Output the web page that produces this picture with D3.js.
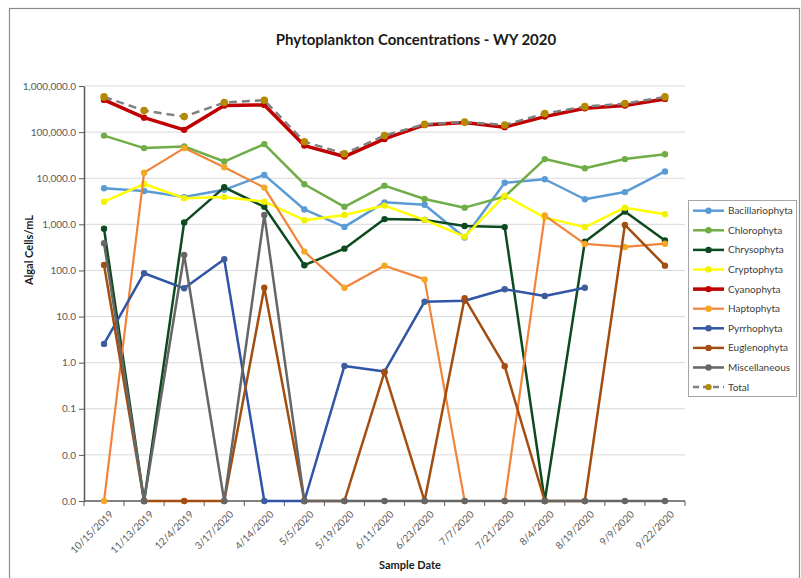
<!DOCTYPE html>
<html>
<head>
  <meta charset="UTF-8">
  <title>Phytoplankton Concentrations - WY 2020</title>
  <style>
    body { margin: 0; background: #fff; }
    svg text { font-family: Lato, "Open Sans", sans-serif; }
  </style>
</head>
<body>
  <div class="chart"></div>
  <script src="https://d3js.org/d3.v7.min.js"></script>
  <script>

    /// data (cells/mL, 0 = none found, null = not sampled)

    var dates = ["10/15/2019", "11/13/2019", "12/4/2019", "3/17/2020", "4/14/2020", "5/5/2020",
                 "5/19/2020", "6/11/2020", "6/23/2020", "7/7/2020", "7/21/2020", "8/4/2020",
                 "8/19/2020", "9/9/2020", "9/22/2020"];

    var bacillariophyta = [6050, 5300, 3900, 5600, 11800, 2100, 880, 3000, 2650, 520, 8000, 9500, 3500, 5000, 14000];
    var chlorophyta = [84000, 45000, 49000, 23000, 55000, 7400, 2400, 6900, 3550, 2300, 4000, 26000, 16500, 26000, 33000];
    var chrysophyta = [800, 0, 1100, 6350, 2400, 130, 297, 1300, 1250, 920, 870, 0, 420, 1900, 445];
    var cryptophyta = [3100, 7500, 3700, 3900, 3100, 1230, 1600, 2550, 1250, 540, 4200, 1400, 870, 2300, 1650];
    var cyanophyta = [500000, 206000, 112000, 376000, 389000, 51000, 29500, 71000, 143000, 161000, 128000, 217000, 330000, 376000, 525000];
    var haptophyta = [0, 13200, 45000, 17300, 6260, 256, 42, 126, 64, 0, 0, 1550, 376, 323, 380];
    var pyrrhophyta = [2.55, 87, 41, 175, 0, 0, 0.85, 0.64, 21, 22, 39, 28, 42, null, null];
    var euglenophyta = [132, 0, 0, 0, 42, 0, 0, 0.62, 0, 25, 0.84, 0, 0, 970, 127];
    var miscellaneous = [390, 0, 217, 0, 1600, 0, 0, 0, 0, 0, 0, 0, 0, 0, 0];
    var total = [580000, 293000, 217000, 437000, 491000, 62000, 34000, 84000, 148000, 166000, 143000, 252000, 357000, 415000, 580000];

    var yTicks = [0.001, 0.01, 0.1, 1, 10, 100, 1000, 10000, 100000, 1000000];

    // series, in drawing order
    var series = [
      {name: "Bacillariophyta", values: bacillariophyta, color: "#5b9bd5", marker: "#5b9bd5", width: 2.5},
      {name: "Chlorophyta", values: chlorophyta, color: "#70ad47", marker: "#70ad47", width: 2.5},
      {name: "Chrysophyta", values: chrysophyta, color: "#0d4a1f", marker: "#0d4a1f", width: 2.5},
      {name: "Cryptophyta", values: cryptophyta, color: "#ffff00", marker: "#f2f200", width: 2.5},
      {name: "Cyanophyta", values: cyanophyta, color: "#c00000", marker: "#c00000", width: 3.5},
      {name: "Haptophyta", values: haptophyta, color: "#f0843a", marker: "#f5a623", width: 2.2},
      {name: "Pyrrhophyta", values: pyrrhophyta, color: "#2f55a4", marker: "#3d5d9e", width: 2.5},
      {name: "Euglenophyta", values: euglenophyta, color: "#a34e10", marker: "#a34e10", width: 2.5},
      {name: "Miscellaneous", values: miscellaneous, color: "#666666", marker: "#666666", width: 2.5},
      {name: "Total", values: total, color: "#808080", marker: "#b38a00", width: 2.5, dash: "8,5"}
    ];

    /// layout

    var width = 801, height = 578;
    var plot = {left: 84, right: 685, top: 86, bottom: 501};

    var svg = d3.select(".chart").append("svg")
        .attr("width", width)
        .attr("height", height);

    // chart border
    svg.append("rect")
        .attr("x", 9.5).attr("y", 8.5)
        .attr("width", 790).attr("height", 580)
        .attr("fill", "#fff")
        .attr("stroke", "#8c8c8c")
        .attr("stroke-width", 1.2);

    var x = d3.scaleBand()
        .domain(dates)
        .range([plot.left, plot.right]);
    var y = d3.scaleLog()
        .domain([0.001, 1000000])
        .range([plot.bottom, plot.top]);

    // zero can't go on a log axis, Excel parks it on the floor
    function yPos(v) { return y(Math.max(v, 0.001)); }
    function xPos(d) { return x(d) + x.bandwidth() / 2; }

    // gridlines
    svg.append("g")
        .attr("class", "grid")
      .selectAll("line")
      .data(yTicks.slice(1))
      .enter().append("line")
        .attr("x1", plot.left).attr("x2", plot.right)
        .attr("y1", function(d) { return y(d); })
        .attr("y2", function(d) { return y(d); })
        .attr("stroke", "#d9d9d9")
        .attr("stroke-width", 1);

    // y axis
    var yAxis = svg.append("g")
        .attr("transform", "translate(" + plot.left + ",0)")
        .call(d3.axisLeft(y).tickValues(yTicks).tickFormat(d3.format(",.1f")).tickSize(5).tickSizeOuter(0));
    yAxis.select(".domain").attr("stroke", "#595959").attr("stroke-width", 1.5);
    yAxis.selectAll(".tick line").attr("stroke", "#595959");
    yAxis.selectAll(".tick text")
        .attr("x", -8)
        .attr("fill", "#595959")
        .style("font-size", "10px");

    // x axis: ticks sit between the categories
    var xAxisG = svg.append("g")
        .attr("transform", "translate(0," + plot.bottom + ")");
    xAxisG.append("line")
        .attr("x1", plot.left).attr("x2", plot.right)
        .attr("stroke", "#595959").attr("stroke-width", 1.5);
    xAxisG.selectAll(".tk")
      .data(dates.concat([null]))
      .enter().append("line")
        .attr("class", "tk")
        .attr("x1", function(d, i) { return plot.left + i * x.step(); })
        .attr("x2", function(d, i) { return plot.left + i * x.step(); })
        .attr("y1", 0).attr("y2", 5)
        .attr("stroke", "#595959");
    xAxisG.selectAll(".lbl")
      .data(dates)
      .enter().append("text")
        .attr("class", "lbl")
        .attr("transform", function(d) { return "translate(" + (xPos(d) + 5) + ",9) rotate(-45)"; })
        .attr("text-anchor", "end")
        .attr("dy", "0.7em")
        .attr("fill", "#595959")
        .style("font-size", "10px")
        .text(function(d) { return d; });

    // lines + markers
    var line = d3.line()
        .defined(function(d) { return d.v !== null; })
        .x(function(d) { return xPos(d.date); })
        .y(function(d) { return yPos(d.v); });

    series.forEach(function(s) {
      var pts = s.values.map(function(v, i) { return {date: dates[i], v: v}; });
      var g = svg.append("g").attr("class", "series");
      g.append("path")
          .datum(pts)
          .attr("d", line)
          .attr("fill", "none")
          .attr("stroke", s.color)
          .attr("stroke-width", s.width)
          .attr("stroke-linejoin", "round")
          .attr("stroke-dasharray", s.dash || null);
      g.selectAll("circle")
        .data(pts.filter(function(d) { return d.v !== null; }))
        .enter().append("circle")
          .attr("cx", function(d) { return xPos(d.date); })
          .attr("cy", function(d) { return yPos(d.v); })
          .attr("r", s.name === "Total" ? 3.8 : 3.2)
          .attr("fill", s.marker);
    });

    // titles
    svg.append("text")
        .attr("x", 416).attr("y", 45)
        .attr("text-anchor", "middle")
        .style("font-size", "15px").style("font-weight", "bold")
        .attr("fill", "#1a1a1a")
        .text("Phytoplankton Concentrations - WY 2020");

    svg.append("text")
        .attr("transform", "translate(33,250) rotate(-90)")
        .attr("text-anchor", "middle")
        .style("font-size", "11px").style("font-weight", "bold")
        .attr("fill", "#1a1a1a")
        .text("Algal Cells/mL");

    svg.append("text")
        .attr("x", 410).attr("y", 569)
        .attr("text-anchor", "middle")
        .style("font-size", "11px").style("font-weight", "bold")
        .attr("fill", "#1a1a1a")
        .text("Sample Date");

    // legend
    var legend = svg.append("g").attr("class", "legend");
    legend.append("rect")
        .attr("x", 688.5).attr("y", 200.5)
        .attr("width", 108).attr("height", 196)
        .attr("fill", "#fff")
        .attr("stroke", "#a6a6a6");

    var item = legend.selectAll(".item")
      .data(series)
      .enter().append("g")
        .attr("class", "item")
        .attr("transform", function(d, i) { return "translate(693," + (210.7 + i * 19.6) + ")"; });
    item.append("line")
        .attr("x1", 0).attr("x2", 31)
        .attr("stroke", function(d) { return d.color; })
        .attr("stroke-width", function(d) { return d.width; })
        .attr("stroke-dasharray", function(d) { return d.dash ? "6,4" : null; });
    item.append("circle")
        .attr("cx", 15.5)
        .attr("r", 3.2)
        .attr("fill", function(d) { return d.marker; });
    item.append("text")
        .attr("x", 35)
        .attr("dy", "0.35em")
        .attr("fill", "#404040")
        .style("font-size", "10px")
        .text(function(d) { return d.name; });

  </script>
</body>
</html>
